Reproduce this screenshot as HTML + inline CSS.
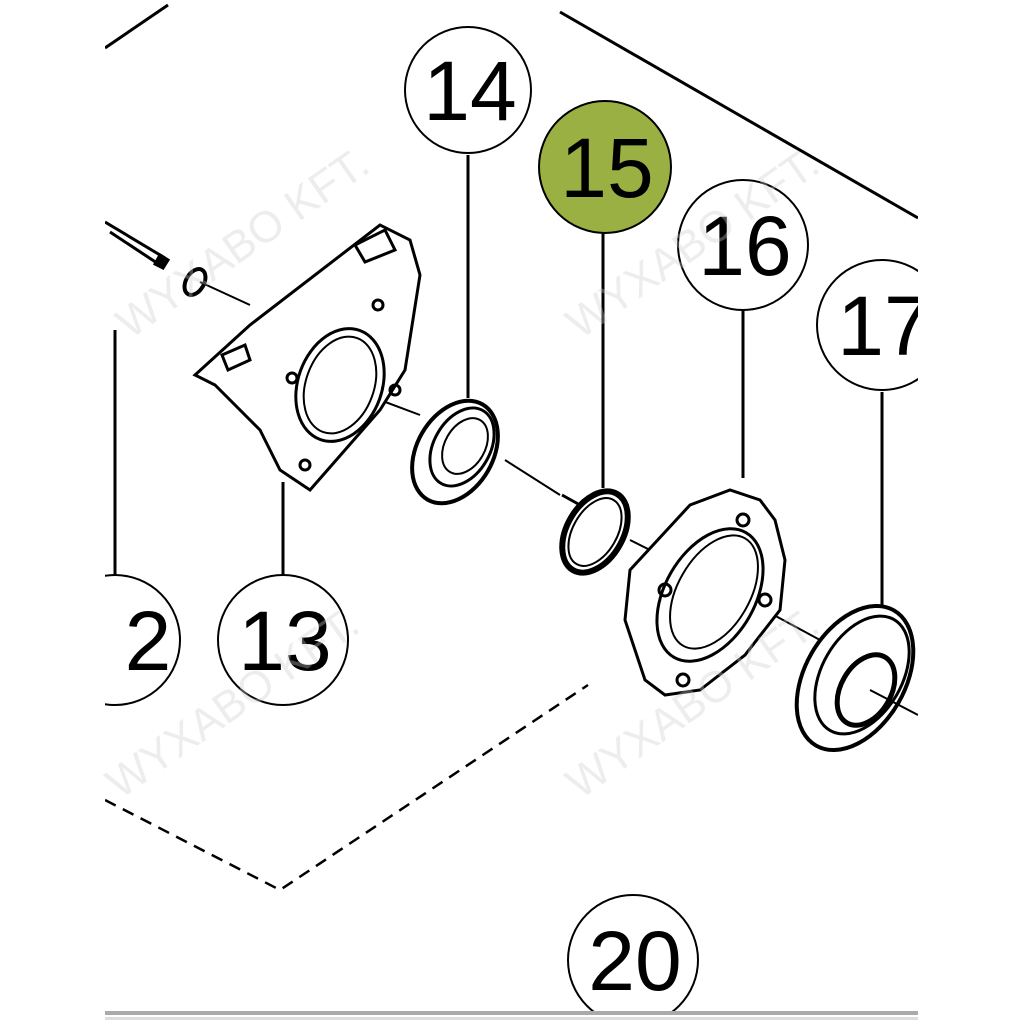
<!DOCTYPE html>
<html><head><meta charset="utf-8"><style>
html,body{margin:0;padding:0;background:#fff;width:1024px;height:1024px;overflow:hidden}
svg{display:block}
text{font-family:"Liberation Sans",sans-serif}
</style></head><body>
<svg width="1024" height="1024" viewBox="0 0 1024 1024" xmlns="http://www.w3.org/2000/svg">
<defs><clipPath id="c"><rect x="105" y="0" width="813" height="1012"/></clipPath></defs>
<rect width="1024" height="1024" fill="#fff"/>
<g clip-path="url(#c)" stroke="#000" fill="none" stroke-width="3">
<line x1="105" y1="48" x2="168" y2="5"/>
<line x1="560" y1="12" x2="918" y2="218"/>
<polyline points="105,800 280,890 588,685" stroke-dasharray="12,8" stroke-width="2.5"/>
<line x1="468" y1="155" x2="468" y2="398"/>
<line x1="603" y1="233" x2="603" y2="488"/>
<line x1="743" y1="310" x2="743" y2="478"/>
<line x1="882" y1="392" x2="882" y2="608"/>
<line x1="283" y1="578" x2="283" y2="482"/>
<line x1="115" y1="578" x2="115" y2="330"/>
<polyline points="200,282 250,305" stroke-width="2"/>
<polyline points="340,385 420,415" stroke-width="2"/>
<polyline points="505,460 560,495" stroke-width="2"/>
<polyline points="630,540 660,555" stroke-width="2"/>
<polyline points="700,575 820,640" stroke-width="2"/>
<polyline points="870,690 918,715" stroke-width="2"/>
<path d="M105,222 L165,258 M110,232 L160,265" stroke-width="3"/>
<path d="M160,255 l8,5 l-5,8 l-8,-4z" fill="#000"/>
<ellipse cx="195" cy="282" rx="9" ry="14" transform="rotate(30 195 282)" stroke-width="4"/>
<path d="M195,375 L250,325 L380,225 L410,240 L420,275 L405,370 L380,410 L310,490 L280,470 L260,430 L215,385 Z" fill="#fff" stroke-width="3"/>
<path d="M355,245 L385,230 L395,250 L365,262 Z"/>
<path d="M222,355 L245,345 L250,360 L228,370 Z"/>
<ellipse cx="340" cy="385" rx="42" ry="58" transform="rotate(20 340 385)" stroke-width="3"/>
<ellipse cx="340" cy="385" rx="34" ry="50" transform="rotate(20 340 385)" stroke-width="2"/>
<circle cx="378" cy="305" r="5"/><circle cx="292" cy="378" r="5"/><circle cx="305" cy="465" r="5"/><circle cx="395" cy="390" r="5"/>
<ellipse cx="455" cy="452" rx="38" ry="55" transform="rotate(30 455 452)" stroke-width="4"/>
<ellipse cx="462" cy="447" rx="28" ry="42" transform="rotate(30 462 447)" stroke-width="3"/>
<ellipse cx="465" cy="446" rx="20" ry="30" transform="rotate(30 465 446)" stroke-width="2"/>
<path d="M562,495 L580,505" stroke-width="3"/>
<ellipse cx="595" cy="532" rx="28" ry="44" transform="rotate(30 595 532)" stroke-width="6"/>
<ellipse cx="595" cy="532" rx="22" ry="37" transform="rotate(30 595 532)" stroke-width="2"/>
<path d="M630,570 L690,505 L730,490 L760,500 L775,520 L785,560 L780,610 L745,655 L700,690 L665,695 L645,680 L625,620 Z" fill="#fff" stroke-width="3"/>
<ellipse cx="710" cy="595" rx="45" ry="72" transform="rotate(30 710 595)" stroke-width="3"/>
<ellipse cx="714" cy="592" rx="36" ry="62" transform="rotate(30 714 592)" stroke-width="2"/>
<circle cx="743" cy="520" r="6"/><circle cx="765" cy="600" r="6"/><circle cx="665" cy="590" r="6"/><circle cx="683" cy="680" r="6"/>
<ellipse cx="855" cy="678" rx="50" ry="78" transform="rotate(30 855 678)" stroke-width="4"/>
<ellipse cx="862" cy="675" rx="40" ry="64" transform="rotate(30 862 675)" stroke-width="3"/>
<ellipse cx="866" cy="690" rx="25" ry="38" transform="rotate(30 866 690)" stroke-width="5"/>
<circle cx="468" cy="90" r="63" fill="#fff" stroke-width="2"/>
<circle cx="605" cy="167" r="66" fill="#9bb042" stroke-width="2"/>
<circle cx="743" cy="245" r="65" fill="#fff" stroke-width="2"/>
<circle cx="882" cy="325" r="65" fill="#fff" stroke-width="2"/>
<circle cx="283" cy="640" r="65" fill="#fff" stroke-width="2"/>
<circle cx="115" cy="640" r="65" fill="#fff" stroke-width="2"/>
<circle cx="633" cy="960" r="65" fill="#fff" stroke-width="2"/>
</g>
<g font-size="84" text-anchor="middle" fill="#000">
<text x="470" y="120">14</text>
<text x="607" y="197">15</text>
<text x="745" y="275">16</text>
<text x="884" y="355">17</text>
<text x="285" y="670">13</text>
<text x="148" y="670">2</text>
<text x="635" y="990">20</text>
</g>
<rect x="0" y="0" width="105" height="1024" fill="#fff"/>
<rect x="918" y="0" width="106" height="1024" fill="#fff"/>
<rect x="105" y="1011" width="813" height="4" fill="#aaa"/>
<rect x="105" y="1017" width="813" height="3" fill="#ddd"/>
<g fill="#ccc" opacity="0.35" font-size="44">
<text transform="translate(130,340) rotate(-35)">WYXABO KFT.</text>
<text transform="translate(580,340) rotate(-35)">WYXABO KFT.</text>
<text transform="translate(120,800) rotate(-35)">WYXABO KFT.</text>
<text transform="translate(580,800) rotate(-35)">WYXABO KFT.</text>
</g>
</svg>
</body></html>
